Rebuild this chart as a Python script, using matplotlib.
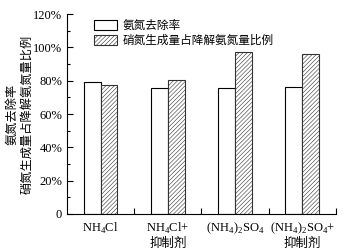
import matplotlib
matplotlib.use("Agg")
import matplotlib.pyplot as plt
import numpy as np
from matplotlib.ticker import MultipleLocator, FixedLocator

plt.rcParams['font.family'] = ['Liberation Serif', 'Noto Sans CJK SC']
plt.rcParams['hatch.linewidth'] = 0.4
plt.rcParams['mathtext.fontset'] = 'custom'
plt.rcParams['mathtext.rm'] = 'Liberation Serif'

categories = ['NH$_4$Cl', 'NH$_4$Cl+\n抑制剂', '(NH$_4$)$_2$SO$_4$', '(NH$_4$)$_2$SO$_4$+\n抑制剂']
removal = [79.0, 75.6, 75.4, 76.0]
nitrate_ratio = [77.4, 80.2, 97.4, 96.0]
series_names = ['氨氮去除率', '硝氮生成量占降解氨氮量比例']
ylabel = '氨氮去除率\n硝氮生成量占降解氨氮量比例'

fig = plt.figure(figsize=(3.51, 2.52), dpi=100)
ax = fig.add_axes([0.191, 0.151, 0.766, 0.793])

x = np.arange(1, len(categories) + 1)
w = 0.25
ax.bar(x - w / 2, removal, w, facecolor='white', edgecolor='black', linewidth=0.8, label=series_names[0])
ax.bar(x + w / 2, nitrate_ratio, w, facecolor='white', edgecolor='#333333', linewidth=0.8,
       hatch='////////', label=series_names[1])

ax.set_xlim(0.5, 4.5)
ax.set_ylim(0, 120)
ax.set_yticks(np.arange(0, 121, 20))
ax.yaxis.set_minor_locator(MultipleLocator(10))
ax.set_yticklabels(['0'] + [f'{v}%' for v in range(20, 121, 20)], fontsize=9)
ax.xaxis.set_major_locator(FixedLocator(x))
ax.set_xticklabels(categories, fontsize=9)
ax.xaxis.set_minor_locator(FixedLocator([1.5, 2.5, 3.5, 4.5]))
ax.tick_params(axis='x', which='major', length=0, pad=5)
ax.tick_params(axis='x', which='minor', direction='in', length=4, width=0.8)
ax.tick_params(axis='y', which='both', direction='in', width=0.8)
ax.tick_params(axis='y', which='major', length=4)
ax.tick_params(axis='y', which='minor', length=2.5)
ax.spines['top'].set_visible(False)
ax.spines['right'].set_visible(False)
for s in ['left', 'bottom']:
    ax.spines[s].set_linewidth(0.8)

ax.set_ylabel(ylabel, fontsize=8.8, family=['Noto Sans CJK SC'], linespacing=1.2)
ax.yaxis.set_label_coords(-0.125, 0.5)

leg = ax.legend(loc='upper left', bbox_to_anchor=(0.082, 1.0), frameon=False,
                prop={'family': 'Noto Sans CJK SC', 'size': 8.4},
                handlelength=2.0, handleheight=1.0, handletextpad=0.5, labelspacing=0.2,
                borderaxespad=0)

fig.savefig('out.png', dpi=100)
